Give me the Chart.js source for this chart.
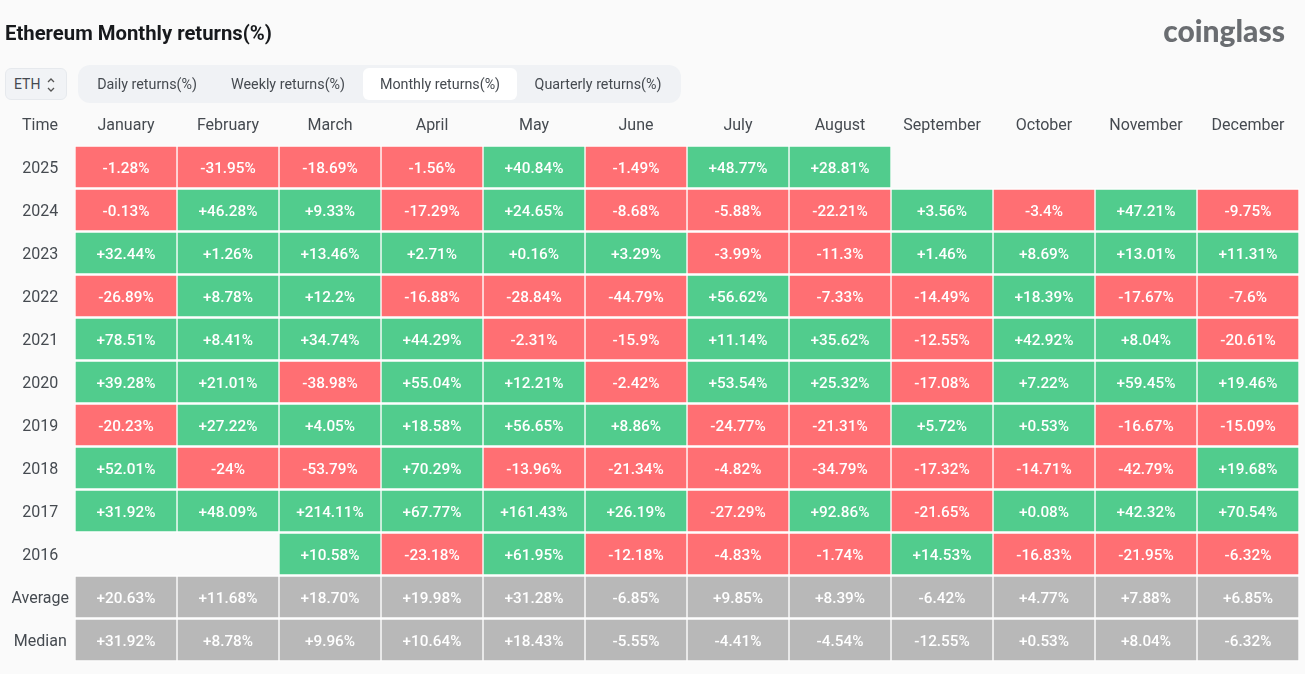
<!DOCTYPE html>
<html>
<head>
<meta charset="utf-8">
<title>Ethereum Monthly returns(%)</title>
<script src="https://cdn.jsdelivr.net/npm/chart.js@4"></script>
<style>
  html, body { margin: 0; padding: 0; width: 1305px; height: 674px; overflow: hidden; background: #fafafa; font-family: Roboto, sans-serif; color: #454a50; }
  #wrap { position: relative; width: 1305px; height: 674px; }
  canvas { position: absolute; left: 0; top: 0; }
  .abs { position: absolute; white-space: nowrap; }
  #title { left: 5px; top: 20px; font-size: 20.3px; font-weight: 700; line-height: 26px; color: #17191c; }
  #logo { right: 20px; top: 11px; font-family: Lato, sans-serif; font-size: 30px; font-weight: 900; line-height: 38px; color: #6a6d71; }
  #coin { left: 5px; top: 68px; width: 62px; height: 32px; box-sizing: border-box; border: 1px solid #e6e9ed; border-radius: 6px; background: #f1f3f6; font-size: 14px; line-height: 30px; padding-left: 8px; }
  #coin svg { position: absolute; left: 40px; top: 7px; }
  #tabs { left: 78px; top: 65px; width: 603px; height: 38px; border-radius: 12px; background: #f0f2f5; }
  #active { left: 363px; top: 68px; width: 154px; height: 32px; border-radius: 6px; background: #fff; }
  .tab { top: 68px; font-size: 14.3px; line-height: 32px; transform: translateX(-50%); }
  #timeHead { left: 40px; top: 114px; font-size: 16px; line-height: 22px; transform: translateX(-50%); }
</style>
</head>
<body>
<div id="wrap">
  <canvas id="heatmap" width="1305" height="674"></canvas>
  <div class="abs" id="title">Ethereum Monthly returns(%)</div>
  <div class="abs" id="logo">coinglass</div>
  <div class="abs" id="coin">ETH
    <svg width="10" height="18" viewBox="0 0 10 18" fill="none" stroke="#555" stroke-width="1.3"><path d="M2 6l3-3 3 3M2 12l3 3 3-3"/></svg>
  </div>
  <div class="abs" id="tabs"></div>
  <div class="abs" id="active"></div>
  <div class="abs tab" style="left:147px">Daily returns(%)</div>
  <div class="abs tab" style="left:288px">Weekly returns(%)</div>
  <div class="abs tab" style="left:440px">Monthly returns(%)</div>
  <div class="abs tab" style="left:598px">Quarterly returns(%)</div>
  <div class="abs" id="timeHead">Time</div>
</div>
<script>
const MONTHS = ["January", "February", "March", "April", "May", "June", "July", "August", "September", "October", "November", "December"];
const ROWS = ["2025", "2024", "2023", "2022", "2021", "2020", "2019", "2018", "2017", "2016", "Average", "Median"];

const returns2025 = [-1.28, -31.95, -18.69, -1.56, 40.84, -1.49, 48.77, 28.81, null, null, null, null];
const returns2024 = [-0.13, 46.28, 9.33, -17.29, 24.65, -8.68, -5.88, -22.21, 3.56, -3.4, 47.21, -9.75];
const returns2023 = [32.44, 1.26, 13.46, 2.71, 0.16, 3.29, -3.99, -11.3, 1.46, 8.69, 13.01, 11.31];
const returns2022 = [-26.89, 8.78, 12.2, -16.88, -28.84, -44.79, 56.62, -7.33, -14.49, 18.39, -17.67, -7.6];
const returns2021 = [78.51, 8.41, 34.74, 44.29, -2.31, -15.9, 11.14, 35.62, -12.55, 42.92, 8.04, -20.61];
const returns2020 = [39.28, 21.01, -38.98, 55.04, 12.21, -2.42, 53.54, 25.32, -17.08, 7.22, 59.45, 19.46];
const returns2019 = [-20.23, 27.22, 4.05, 18.58, 56.65, 8.86, -24.77, -21.31, 5.72, 0.53, -16.67, -15.09];
const returns2018 = [52.01, -24, -53.79, 70.29, -13.96, -21.34, -4.82, -34.79, -17.32, -14.71, -42.79, 19.68];
const returns2017 = [31.92, 48.09, 214.11, 67.77, 161.43, 26.19, -27.29, 92.86, -21.65, 0.08, 42.32, 70.54];
const returns2016 = [null, null, 10.58, -23.18, 61.95, -12.18, -4.83, -1.74, 14.53, -16.83, -21.95, -6.32];
const averages = ["+20.63", "+11.68", "+18.70", "+19.98", "+31.28", "-6.85", "+9.85", "+8.39", "-6.42", "+4.77", "+7.88", "+6.85"];
const medians = ["+31.92", "+8.78", "+9.96", "+10.64", "+18.43", "-5.55", "-4.41", "-4.54", "-12.55", "+0.53", "+8.04", "-6.32"];

const TABLE = [returns2025, returns2024, returns2023, returns2022, returns2021, returns2020,
  returns2019, returns2018, returns2017, returns2016, averages, medians];

const GREEN = "#51cc8d";
const RED = "#ff6f73";
const GREY = "#b8b8b8";

function cellColor(v) {
  if (typeof v === "string") return GREY;
  return v >= 0 ? GREEN : RED;
}

function cellText(v) {
  if (typeof v === "string") return v + "%";
  return (v >= 0 ? "+" : "") + v + "%";
}

// one dataset per month, each bar spans its own column on the hidden x scale
const datasets = MONTHS.map((m, col) => ({
  label: m,
  data: TABLE.map((r) => (r[col] === null ? null : [col, col + 1])),
  backgroundColor: TABLE.map((r) => (r[col] === null ? "transparent" : cellColor(r[col]))),
  borderColor: "#ffffff",
  borderWidth: { left: 1, right: 1, top: 1.5, bottom: 1.5 },
  borderSkipped: false,
  grouped: false,
  categoryPercentage: 1,
  barPercentage: 1,
}));

const cellLabels = {
  id: "cellLabels",
  afterDatasetsDraw(chart) {
    const ctx = chart.ctx;
    ctx.save();
    ctx.font = "500 15.3px Roboto, sans-serif";
    ctx.fillStyle = "#ffffff";
    ctx.textAlign = "center";
    ctx.textBaseline = "middle";
    chart.data.datasets.forEach((ds, col) => {
      chart.getDatasetMeta(col).data.forEach((bar, row) => {
        const v = TABLE[row][col];
        if (v === null) return;
        const p = bar.getCenterPoint();
        ctx.fillText(cellText(v), p.x, p.y + 2);
      });
    });
    ctx.restore();
  },
};

new Chart(document.getElementById("heatmap"), {
  type: "bar",
  data: { labels: ROWS, datasets },
  plugins: [cellLabels],
  options: {
    indexAxis: "y",
    responsive: false,
    animation: false,
    devicePixelRatio: 1,
    layout: { padding: { top: 0, right: 6, bottom: 12.5, left: 0 } },
    plugins: { legend: { display: false }, tooltip: { enabled: false }, title: { display: false } },
    scales: {
      x: { type: "linear", min: 0, max: 12, display: false },
      months: {
        type: "category",
        axis: "x",
        position: "top",
        labels: MONTHS,
        offset: true,
        grid: { display: false, drawTicks: false },
        border: { display: false },
        ticks: { color: "#454a50", font: { family: "Roboto, sans-serif", size: 16 }, padding: 10, maxRotation: 0, autoSkip: false },
        afterFit(scale) { scale.height = 145.5; },
      },
      y: {
        type: "category",
        offset: true,
        grid: { display: false, drawTicks: false },
        border: { display: false },
        ticks: { color: "#454a50", font: { family: "Roboto, sans-serif", size: 16 }, padding: 6, labelOffset: 2, crossAlign: "center", autoSkip: false },
        afterFit(scale) {
          scale.width = 75;
          // the last label's half height would otherwise eat into the bottom row
          scale.paddingTop = 0;
          scale.paddingBottom = 0;
        },
      },
    },
  },
});
</script>
</body>
</html>
